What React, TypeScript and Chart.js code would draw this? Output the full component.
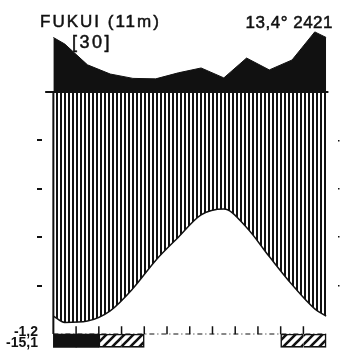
import React, { useEffect, useRef } from "react";
import { Chart, registerables } from "chart.js";

Chart.register(...registerables);

// ---- data (Walter–Lieth climate diagram) ----
const months = ["J", "F", "M", "A", "M", "J", "J", "A", "S", "O", "N", "D"];
const temperature = [2.4, 2.7, 4.8, 9.4, 15.2, 20.0, 24.6, 25.8, 22.0, 16.0, 10.2, 5.2]; // °C
const precipitation = [298, 212, 174, 156, 154, 179, 199, 158, 240, 191, 232, 348]; // mm
const edgeTemperature = 3.7; // value drawn at the year boundary (Dec/Jan)
const edgePrecipitation = 325; // mm at the year boundary
const frostMonths = [0, 1]; // mean daily minimum below 0 °C (black bar)
const possibleFrostMonths = [2, 3, 10, 11]; // absolute minimum below 0 °C (hatched bar)
const stationName = "FUKUI (11m)";
const stationYears = "[30]";
const annualSummary = "13,4° 2421";
const minTickValues = [-1.85, 0.4];
const minTickLabels = ["-15,1", "-1,2"];
const scaleTicks = [10, 20, 30, 40];

// Walter scale: 10 °C = 20 mm up to 100 mm, above 100 mm reduced 1:10
const walter = (p: number) => (p <= 100 ? p / 2 : 50 + (p - 100) / 20);

function verticalStripes(ctx: CanvasRenderingContext2D) {
  const c = document.createElement("canvas");
  c.width = 4;
  c.height = 4;
  const g = c.getContext("2d")!;
  g.fillStyle = "#ffffff";
  g.fillRect(0, 0, 4, 4);
  g.fillStyle = "#111111";
  g.fillRect(0, 0, 2, 4);
  return ctx.createPattern(c, "repeat")!;
}

function diagonalStripes(ctx: CanvasRenderingContext2D) {
  const s = 9;
  const c = document.createElement("canvas");
  c.width = s;
  c.height = s;
  const g = c.getContext("2d")!;
  g.fillStyle = "#ffffff";
  g.fillRect(0, 0, s, s);
  g.strokeStyle = "#111111";
  g.lineWidth = 2.6;
  g.beginPath();
  g.moveTo(-2, s + 2);
  g.lineTo(s + 2, -2);
  g.moveTo(-2, 2);
  g.lineTo(2, -2);
  g.moveTo(s - 2, s + 2);
  g.lineTo(s + 2, s - 2);
  g.stroke();
  return ctx.createPattern(c, "repeat")!;
}

export default function App() {
  const ref = useRef<HTMLCanvasElement>(null);

  useEffect(() => {
    const canvas = ref.current!;
    const ctx = canvas.getContext("2d")!;
    const stripes = verticalStripes(ctx);
    const hatch = diagonalStripes(ctx);

    const tempPoints = [
      { x: 0, y: edgeTemperature },
      ...temperature.map((t, i) => ({ x: i + 0.5, y: t })),
      { x: 12, y: edgeTemperature },
    ];
    const precPoints = [
      { x: 0, y: walter(edgePrecipitation) },
      ...precipitation.map((p, i) => ({ x: i + 0.5, y: walter(p) })),
      { x: 12, y: walter(edgePrecipitation) },
    ];
    const barMonths = months
      .map((_, i) => i)
      .filter((i) => frostMonths.includes(i) || possibleFrostMonths.includes(i));
    const barData = barMonths.map((i) => ({ x: i + 0.5, y: [-2.75, 0] }));
    const monthTicks = months.slice(1).map((_, i) => ({ x: i + 1, y: 0.8 }));

    const bw = 1.6;
    const borderFor = (i: number) => {
      if (frostMonths.includes(i)) return 0;
      const prev = possibleFrostMonths.includes(i - 1);
      const next = possibleFrostMonths.includes(i + 1);
      return { top: bw, bottom: bw, left: prev ? 0 : bw, right: next ? 0 : bw };
    };

    const chart = new Chart(ctx, {
      type: "line",
      data: {
        datasets: [
          {
            type: "line",
            label: "Precipitation",
            data: precPoints,
            borderColor: "#111",
            borderWidth: 1,
            backgroundColor: "#111",
            fill: { value: 50 },
            pointRadius: 0,
            tension: 0,
            order: 6,
          },
          {
            type: "line",
            label: "Temperature",
            data: tempPoints,
            borderColor: "#111",
            borderWidth: 1.5,
            backgroundColor: stripes,
            fill: { value: 50 },
            pointRadius: 0,
            cubicInterpolationMode: "monotone",
            order: 5,
          },
          {
            type: "line",
            label: "100 mm",
            data: [
              { x: -0.36, y: 50 },
              { x: 12.1, y: 50 },
            ],
            borderColor: "#111",
            borderWidth: 2,
            pointRadius: 0,
            clip: false,
            order: 1,
          },
          {
            type: "line",
            label: "axis",
            data: [
              { x: 0, y: 0 },
              { x: 0, y: 50 },
            ],
            borderColor: "#111",
            borderWidth: 2,
            pointRadius: 0,
            order: 1,
          },
          {
            type: "line",
            label: "0 °C",
            data: [
              { x: 0, y: 0 },
              { x: 12, y: 0 },
            ],
            borderColor: "#111",
            borderWidth: 1.2,
            borderDash: [5, 3, 1, 3],
            pointRadius: 0,
            order: 4,
          },
          {
            type: "bar",
            label: "Frost",
            data: barData as any,
            backgroundColor: (c: any) =>
              frostMonths.includes(barMonths[c.dataIndex]) ? "#111" : hatch,
            borderColor: "#111",
            borderWidth: (c: any) => borderFor(barMonths[c.dataIndex]),
            borderSkipped: false,
            barPercentage: 1,
            categoryPercentage: 1,
            order: 3,
          } as any,
          {
            type: "line",
            label: "months",
            data: monthTicks,
            showLine: false,
            pointStyle: "line",
            rotation: 90,
            pointRadius: 4,
            pointBorderWidth: 1.5,
            pointBorderColor: "#111",
            borderColor: "#111",
            order: 2,
          } as any,
        ],
      },
      options: {
        responsive: false,
        animation: false,
        layout: { padding: { top: 29, bottom: 10.5, left: 0, right: 0 } },
        plugins: {
          legend: { display: false },
          title: { display: false },
          tooltip: { enabled: false },
        },
        scales: {
          x: {
            type: "linear",
            min: 0,
            max: 12,
            display: false,
            ticks: { stepSize: 1 },
          },
          y: {
            type: "linear",
            position: "left",
            min: -3.2,
            max: 63,
            afterBuildTicks: (scale: any) => {
              scale.ticks = [...minTickValues, ...scaleTicks].map((v) => ({ value: v }));
            },
            afterFit: (scale: any) => {
              scale.width = 42;
            },
            border: { display: false },
            grid: {
              drawOnChartArea: false,
              drawTicks: true,
              tickLength: 5,
              lineWidth: 2,
              color: (c: any) =>
                c.tick && scaleTicks.includes(c.tick.value) ? "#111" : "rgba(0,0,0,0)",
            },
            ticks: {
              autoSkip: false,
              padding: -1,
              color: "#111",
              font: { family: "Liberation Sans", size: 14, weight: "bold" },
              callback: (v: any) => {
                const k = minTickValues.indexOf(Number(v));
                return k >= 0 ? minTickLabels[k] : "";
              },
            },
          },
          y2: {
            type: "linear",
            position: "right",
            min: -3.2,
            max: 63,
            afterBuildTicks: (scale: any) => {
              scale.ticks = scaleTicks.map((v) => ({ value: v }));
            },
            afterFit: (scale: any) => {
              scale.width = 2;
            },
            border: { display: false },
            grid: {
              drawOnChartArea: false,
              drawTicks: true,
              tickLength: 2,
              lineWidth: 1.5,
              color: "#111",
            },
            ticks: { display: false },
          },
        },
      } as any,
    });
    return () => chart.destroy();
  }, []);

  const font = "'Liberation Sans', Arial, sans-serif";
  const textBase: React.CSSProperties = {
    position: "absolute",
    fontFamily: font,
    fontSize: 17,
    lineHeight: "17px",
    color: "#111",
    whiteSpace: "nowrap",
    WebkitTextStroke: "0.5px #111",
  };
  return (
    <div
      style={{
        position: "fixed",
        left: 0,
        top: 0,
        width: 343,
        height: 360,
        background: "#fff",
        overflow: "hidden",
      }}
    >
      <canvas ref={ref} width={343} height={360} style={{ display: "block" }} />
      <div style={{ ...textBase, left: 40, top: 12.6, letterSpacing: "2px" }}>
        {stationName}
      </div>
      <div style={{ ...textBase, left: 72, top: 33.6, fontSize: 18, letterSpacing: "2.5px" }}>
        {stationYears}
      </div>
      <div style={{ ...textBase, right: 10, top: 13.6, letterSpacing: "0.5px" }}>
        {annualSummary}
      </div>
    </div>
  );
}
